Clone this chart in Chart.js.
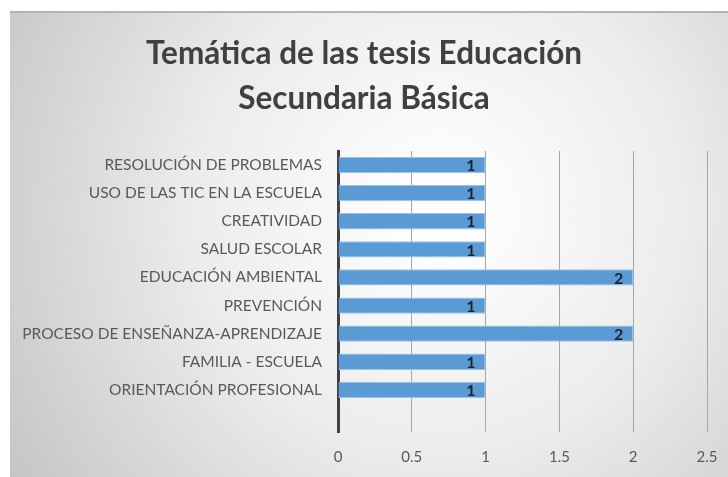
<!DOCTYPE html>
<html>
<head>
<meta charset="utf-8">
<script src="https://cdn.jsdelivr.net/npm/chart.js@4"></script>
<style>
  html, body { margin: 0; padding: 0; background: #ffffff; }
  #chart { display: block; }
</style>
</head>
<body>
<canvas id="chart" width="728" height="477"></canvas>
<script>
// =====================================
// DATA
// =====================================
const titleLines = ["Temática de las tesis Educación", "Secundaria Básica"];

// top to bottom, as in the picture (last row is empty in the source sheet)
const categories = [
  "RESOLUCIÓN DE PROBLEMAS",
  "USO DE LAS TIC EN LA ESCUELA",
  "CREATIVIDAD",
  "SALUD ESCOLAR",
  "EDUCACIÓN AMBIENTAL",
  "PREVENCIÓN",
  "PROCESO DE ENSEÑANZA-APRENDIZAJE",
  "FAMILIA - ESCUELA",
  "ORIENTACIÓN PROFESIONAL",
  ""
];
const thesisCount = [1, 1, 1, 1, 2, 1, 2, 1, 1, null];

const axisMin = 0;
const axisMax = 2.5;
const axisStep = 0.5;

const FONT = "Lato, 'Open Sans', sans-serif";

// =====================================
// BACKGROUND (frame with soft radial gradient)
// =====================================
const backgroundPlugin = {
  id: "frameBackground",
  beforeDraw(chart) {
    const ctx = chart.ctx;
    const w = chart.width, h = chart.height;
    ctx.save();
    ctx.fillStyle = "#ffffff";
    ctx.fillRect(0, 0, w, h);
    const grad = ctx.createRadialGradient(440, 210, 20, 440, 210, 520);
    grad.addColorStop(0, "#ffffff");
    grad.addColorStop(0.45, "#ececec");
    grad.addColorStop(1, "#c3c3c3");
    ctx.fillStyle = grad;
    ctx.fillRect(10, 11, w - 10, h - 11);
    ctx.fillStyle = "#b4b4b4";
    ctx.fillRect(10, 11, w - 10, 2);
    ctx.restore();
  }
};

// =====================================
// VALUE LABELS AT BAR ENDS
// =====================================
const valueLabelPlugin = {
  id: "valueLabels",
  afterDatasetsDraw(chart) {
    const ctx = chart.ctx;
    const meta = chart.getDatasetMeta(0);
    ctx.save();
    ctx.font = "bold 16px " + FONT;
    ctx.fillStyle = "#1c2633";
    ctx.textAlign = "right";
    ctx.textBaseline = "middle";
    meta.data.forEach((bar, i) => {
      const v = thesisCount[i];
      if (v === null || v === undefined) return;
      ctx.fillText(String(v), bar.x - 10, bar.y + 1);
    });
    ctx.restore();
  }
};

// =====================================
// CHART
// =====================================
new Chart(document.getElementById("chart"), {
  type: "bar",
  data: {
    labels: categories,
    datasets: [{
      label: "Tesis",
      data: thesisCount,
      backgroundColor: "#5b9bd5",
      borderColor: "#9cc2e8",
      borderWidth: 1,
      borderSkipped: "left",
      barPercentage: 0.58,
      categoryPercentage: 1
    }]
  },
  options: {
    indexAxis: "y",
    responsive: false,
    animation: false,
    devicePixelRatio: 1,
    layout: { padding: 0 },
    plugins: {
      legend: { display: false },
      tooltip: { enabled: false },
      title: {
        display: true,
        text: titleLines,
        color: "#404040",
        font: { family: FONT, size: 31.5, weight: "bold", lineHeight: "45px" },
        padding: { top: 31, bottom: 30 }
      }
    },
    scales: {
      x: {
        min: axisMin,
        max: axisMax,
        ticks: {
          stepSize: axisStep,
          color: "#595959",
          font: { family: FONT, size: 15 },
          padding: 16,
          callback: value => String(Number(value))
        },
        grid: {
          color: ctx => ctx.tick && ctx.tick.value === 0 ? "rgba(0,0,0,0)" : "#a6a6a6",
          lineWidth: 1,
          drawTicks: false
        },
        border: { display: false },
        afterFit: scale => {
          scale.height = 45;
          // right margin of the plot comes from here, so the title stays centred
          scale.paddingLeft = 0;
          scale.paddingRight = 21;
        }
      },
      y: {
        ticks: {
          color: "#595959",
          font: { family: FONT, size: 15.5 },
          padding: 16,
          autoSkip: false
        },
        grid: { display: false, drawTicks: false },
        border: { display: true, color: "#404040", width: 3 },
        afterFit: scale => { scale.width = 338; }
      }
    }
  },
  plugins: [backgroundPlugin, valueLabelPlugin]
});
</script>
</body>
</html>
